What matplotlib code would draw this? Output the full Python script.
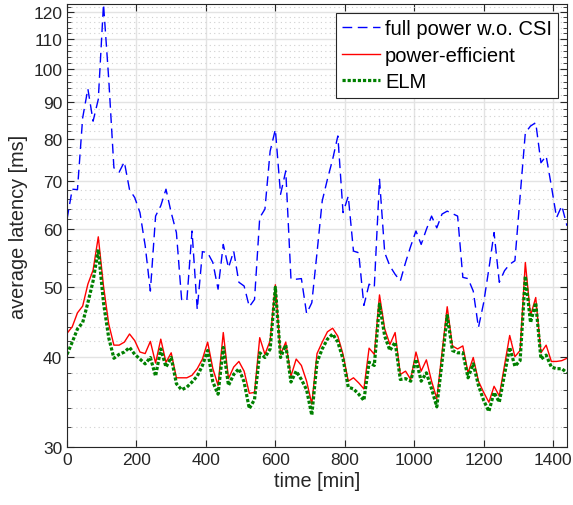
import numpy as np
import matplotlib
matplotlib.use("Agg")
import matplotlib.pyplot as plt
from matplotlib.ticker import FixedLocator, NullFormatter, FixedFormatter

plt.rcParams['font.family'] = ['Liberation Sans', 'DejaVu Sans']

time_min = list(range(0, 1441, 15))

full_power = [62.0, 68.2, 68.1, 85.6, 93.9, 84.7, 90.8, 123.0, 97.0, 73.0,
              72.0, 74.4, 68.1, 66.4, 63.3, 57.0, 49.3, 62.6, 64.7, 68.2,
              63.3, 59.4, 48.0, 47.8, 59.7, 46.5, 55.9, 55.7, 54.0, 49.6,
              57.2, 53.1, 56.0, 50.7, 50.1, 46.9, 48.0, 62.3, 64.0, 77.0,
              82.5, 67.1, 72.3, 51.2, 51.2, 51.3, 45.9, 47.5, 55.7, 65.7,
              70.4, 75.0, 80.8, 63.3, 66.7, 56.0, 55.7, 47.1, 50.4, 49.9,
              70.4, 55.7, 53.4, 52.0, 50.9, 54.0, 56.9, 59.7, 57.2, 60.0,
              62.6, 60.3, 63.0, 63.6, 63.1, 62.6, 51.5, 51.3, 49.3, 43.9,
              47.5, 52.9, 59.4, 50.7, 52.6, 53.7, 54.3, 66.7, 81.6, 83.4,
              84.3, 74.2, 75.8, 68.9, 62.3, 64.7, 60.7]

power_efficient = [43.1, 44.0, 46.0, 47.0, 50.4, 52.7, 58.6, 50.1, 44.4, 41.5,
                   41.5, 41.9, 43.0, 42.1, 40.6, 40.4, 42.0, 39.2, 42.3, 39.3,
                   40.5, 37.4, 37.4, 37.4, 37.7, 38.5, 39.7, 41.9, 38.5, 36.5,
                   43.2, 37.3, 38.7, 39.4, 38.2, 35.6, 35.7, 42.5, 40.3, 42.1,
                   50.3, 40.3, 41.9, 37.6, 39.7, 38.9, 37.0, 34.4, 40.4, 41.9,
                   43.3, 43.8, 42.7, 40.3, 37.0, 37.4, 36.8, 36.1, 41.1, 40.3,
                   48.7, 43.7, 41.6, 43.2, 37.8, 38.2, 37.2, 40.6, 38.2, 39.6,
                   37.0, 35.0, 40.5, 46.9, 41.4, 41.0, 41.4, 38.0, 39.9, 37.0,
                   35.7, 34.6, 36.4, 35.3, 38.9, 42.8, 40.0, 40.8, 54.0, 45.6,
                   48.3, 40.5, 41.5, 39.4, 39.4, 39.5, 39.8]

elm = [40.3, 41.9, 43.7, 44.6, 47.5, 50.9, 56.3, 47.5, 42.5, 39.8,
       40.3, 40.6, 41.2, 40.3, 39.7, 39.1, 39.9, 37.6, 41.0, 38.7,
       39.9, 36.7, 36.0, 36.3, 36.9, 37.6, 38.9, 40.8, 36.9, 35.5,
       41.2, 36.5, 37.8, 38.5, 36.9, 33.9, 34.9, 40.5, 39.9, 41.0,
       49.9, 39.9, 41.5, 36.9, 38.2, 37.2, 36.0, 33.2, 39.3, 41.0,
       42.3, 43.0, 41.9, 39.7, 36.3, 36.1, 35.5, 34.8, 39.3, 38.9,
       47.3, 42.7, 40.8, 41.9, 37.2, 37.3, 37.0, 39.7, 37.0, 38.0,
       36.1, 34.1, 39.3, 45.6, 40.8, 40.5, 40.5, 37.4, 39.1, 36.5,
       34.8, 33.6, 35.7, 34.6, 37.8, 41.2, 38.8, 39.5, 51.7, 44.6,
       47.5, 39.7, 40.2, 38.7, 38.5, 38.5, 38.0]

y_major = [30, 40, 50, 60, 70, 80, 90, 100, 110, 120]
x_major = [0, 200, 400, 600, 800, 1000, 1200, 1400]

fig = plt.figure(figsize=(5.73, 5.06), dpi=100)
ax = fig.add_axes([0.117, 0.1146, 0.8725, 0.8754])

ax.plot(time_min, full_power, color='#0000ff', lw=1.0, ls=(0, (7, 4)), label='full power w.o. CSI')
ax.plot(time_min, power_efficient, color='#ff0000', lw=1.0, ls='-', label='power-efficient')
ax.plot(time_min, elm, color='#008000', lw=2.3, ls=(0, (1, 0.6)), label='ELM')

ax.set_yscale('log')
ax.set_xlim(0, 1440)
ax.set_ylim(30, 123)

ax.yaxis.set_major_locator(FixedLocator(y_major))
ax.yaxis.set_major_formatter(FixedFormatter([str(v) for v in y_major]))
minors = [v for v in range(32, 123, 2) if v not in y_major]
ax.yaxis.set_minor_locator(FixedLocator(minors))
ax.yaxis.set_minor_formatter(NullFormatter())
ax.xaxis.set_major_locator(FixedLocator(x_major))

ax.grid(True, which='major', color='#e3e3e3', lw=1.0, ls='-')
ax.grid(True, which='minor', axis='y', color='#d0d0d0', lw=0.8, ls=(0, (1, 3)))
ax.set_axisbelow(True)

ax.tick_params(which='both', direction='in', top=True, right=True,
               labelsize=12.5, colors='#262626', labelcolor='#262626')
ax.tick_params(which='major', length=5, width=0.8)
ax.tick_params(which='minor', length=3, width=0.6)
for s in ax.spines.values():
    s.set_color('#262626')
    s.set_linewidth(0.8)

ax.set_xlabel('time [min]', fontsize=14.3, color='#262626', labelpad=3)
ax.set_ylabel('average latency [ms]', fontsize=14.3, color='#262626', labelpad=4)

leg = ax.legend(loc='upper right', fontsize=14.5, frameon=True, fancybox=False,
                edgecolor='#262626', framealpha=1, handlelength=1.9,
                borderaxespad=0.45, labelspacing=0.38, handletextpad=0.25,
                borderpad=0.3)
leg.get_frame().set_linewidth(0.8)

fig.savefig('out.png', dpi=100)
